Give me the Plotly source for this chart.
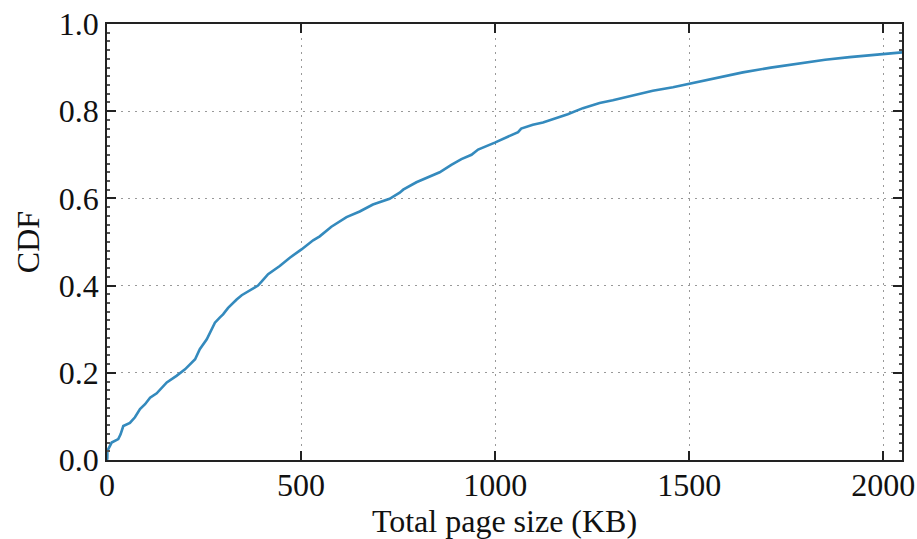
import plotly.graph_objects as go

page_size_kb = [0, 0.8, 1, 12, 29, 35, 42, 59, 72, 85, 98, 111, 128, 154, 179, 201, 227, 239,
                257, 278, 291, 299, 312, 325, 334, 347, 389, 401, 415, 445, 471, 501, 531, 548,
                578, 617, 651, 685, 728, 754, 763, 797, 836, 857, 887, 913, 939, 956, 999,
                1033, 1059, 1067, 1097, 1123, 1158, 1187, 1226, 1269, 1303, 1355, 1406, 1458,
                1501, 1526, 1580, 1638, 1710, 1784, 1850, 1913, 1960, 1998, 2048]
cdf = [0, 0.004, 0.021, 0.040, 0.048, 0.059, 0.078, 0.085, 0.098, 0.117, 0.128, 0.143, 0.153,
       0.178, 0.193, 0.208, 0.231, 0.254, 0.277, 0.315, 0.327, 0.334, 0.349, 0.361, 0.368,
       0.378, 0.400, 0.412, 0.426, 0.445, 0.464, 0.483, 0.504, 0.513, 0.535, 0.557, 0.570,
       0.586, 0.599, 0.613, 0.620, 0.637, 0.651, 0.660, 0.677, 0.690, 0.700, 0.712, 0.728,
       0.742, 0.752, 0.760, 0.769, 0.774, 0.784, 0.793, 0.807, 0.819, 0.825, 0.836, 0.847,
       0.855, 0.863, 0.868, 0.878, 0.889, 0.900, 0.910, 0.918, 0.924, 0.928, 0.931, 0.935]

x_ticks = [0, 500, 1000, 1500, 2000]
y_ticks = [0.0, 0.2, 0.4, 0.6, 0.8, 1.0]
y_tick_labels = ["0.0", "0.2", "0.4", "0.6", "0.8", "1.0"]

FONT = "Liberation Serif, Times New Roman, serif"
FS = 32

fig = go.Figure()
fig.add_trace(go.Scatter(x=page_size_kb, y=cdf, mode="lines",
                         line=dict(color="#348ABD", width=2.6), showlegend=False))

axis_common = dict(
    showline=True, linecolor="#222", linewidth=1.5, mirror="allticks",
    ticks="inside", ticklen=9, tickwidth=1.5, tickcolor="#222",
    showgrid=True, gridcolor="#999", griddash="2px,5px", gridwidth=1.2,
    zeroline=False, tickfont=dict(family=FONT, size=FS, color="#111"),
)

fig.update_xaxes(range=[0, 2048], tickvals=x_ticks, ticktext=[str(v) for v in x_ticks],
                 ticklabelstandoff=-4,
                 title=dict(text="Total page size (KB)", font=dict(family=FONT, size=FS, color="#111"),
                            standoff=12),
                 **axis_common)
fig.update_yaxes(range=[0, 1.0], tickvals=y_ticks, ticktext=y_tick_labels,
                 title=dict(text="CDF", font=dict(family=FONT, size=FS, color="#111"), standoff=10),
                 minor=dict(ticks="inside", ticklen=3, dtick=0.02, tickcolor="#555", showgrid=False),
                 **axis_common)

fig.update_layout(
    width=917, height=539,
    margin=dict(l=107, r=15, t=24, b=79, autoexpand=False),
    plot_bgcolor="white", paper_bgcolor="white",
    font=dict(family=FONT, size=FS, color="#111"),
)

fig.write_html("out.html")
